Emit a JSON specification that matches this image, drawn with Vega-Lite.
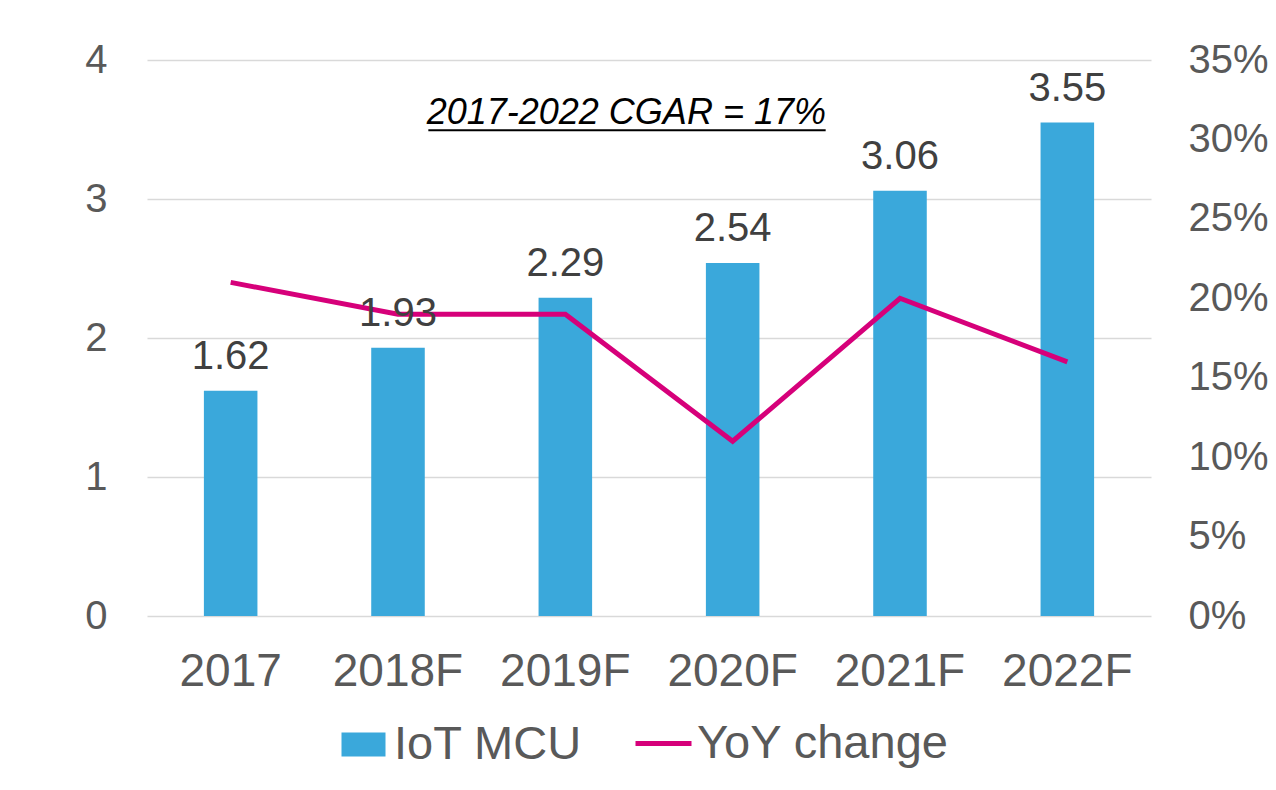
{
  "$schema": "https://vega.github.io/schema/vega-lite/v6.json",
  "width": 1004,
  "height": 556,
  "autosize": "none",
  "padding": {"left": 147, "top": 60, "right": 125, "bottom": 174},
  "background": "white",
  "config": {
    "font": "Liberation Sans",
    "view": {"stroke": null}
  },
  "data": {
    "values": [
      {"year": "2017", "mcu": 1.62, "yoy": 0.21},
      {"year": "2018F", "mcu": 1.93, "yoy": 0.19},
      {"year": "2019F", "mcu": 2.29, "yoy": 0.19},
      {"year": "2020F", "mcu": 2.54, "yoy": 0.11},
      {"year": "2021F", "mcu": 3.06, "yoy": 0.20},
      {"year": "2022F", "mcu": 3.55, "yoy": 0.16}
    ]
  },
  "encoding": {
    "x": {
      "field": "year",
      "type": "nominal",
      "sort": null,
      "scale": {"paddingInner": 0.68, "paddingOuter": 0.34},
      "axis": {
        "title": null,
        "labelAngle": 0,
        "labelFontSize": 46,
        "labelColor": "#595959",
        "labelBaseline": "alphabetic",
        "labelPadding": 69,
        "ticks": false,
        "tickSize": 0,
        "domain": false,
        "grid": false
      }
    }
  },
  "layer": [
    {
      "mark": {"type": "bar", "color": "#3AA8DB"},
      "encoding": {
        "y": {
          "field": "mcu",
          "type": "quantitative",
          "scale": {"domain": [0, 4]},
          "axis": {
            "orient": "left",
            "title": null,
            "values": [0, 1, 2, 3, 4],
            "labelFontSize": 40,
            "labelColor": "#595959",
            "labelPadding": 40,
            "ticks": false,
            "tickSize": 0,
            "domain": false,
            "grid": true,
            "gridColor": "#D9D9D9",
            "gridWidth": 1.5
          }
        },
        "fill": {
          "datum": "IoT MCU",
          "type": "nominal",
          "scale": {"range": ["#3AA8DB"]},
          "legend": {
            "title": null,
            "orient": "none",
            "legendX": 193,
            "legendY": 661,
            "padding": 0,
            "symbolType": "M-1,-0.55H1V0.55H-1Z",
            "symbolSize": 1936,
            "symbolStrokeWidth": 0,
            "labelFontSize": 47,
            "labelColor": "#595959",
            "labelOffset": 7,
            "labelLimit": 400
          }
        }
      }
    },
    {
      "mark": {"type": "line", "color": "#D6007A", "strokeWidth": 5},
      "encoding": {
        "y": {
          "field": "yoy",
          "type": "quantitative",
          "scale": {"domain": [0, 0.35]},
          "axis": {
            "orient": "right",
            "title": null,
            "format": ".0%",
            "values": [0, 0.05, 0.1, 0.15, 0.2, 0.25, 0.3, 0.35],
            "labelFontSize": 40,
            "labelColor": "#595959",
            "labelPadding": 37,
            "ticks": false,
            "tickSize": 0,
            "domain": false,
            "grid": false
          }
        },
        "stroke": {
          "datum": "YoY change",
          "type": "nominal",
          "scale": {"range": ["#D6007A"]},
          "legend": {
            "title": null,
            "orient": "none",
            "legendX": 486,
            "legendY": 653,
            "padding": 0,
            "symbolType": "stroke",
            "symbolSize": 3136,
            "symbolStrokeWidth": 5,
            "labelFontSize": 47,
            "labelColor": "#595959",
            "labelOffset": 3,
            "labelLimit": 400
          }
        }
      }
    },
    {
      "mark": {"type": "text", "baseline": "alphabetic", "dy": -22, "fontSize": 40, "color": "#404040"},
      "encoding": {
        "y": {"field": "mcu", "type": "quantitative", "scale": {"domain": [0, 4]}, "axis": null},
        "text": {"field": "mcu", "type": "quantitative", "format": ".2f"}
      }
    },
    {
      "data": {"values": [{"year": "2019F", "v": 3.54, "label": "2017-2022 CGAR = 17%"}]},
      "mark": {"type": "text", "baseline": "alphabetic", "align": "center", "dx": 61, "fontSize": 36, "fontStyle": "italic", "color": "#000000"},
      "encoding": {
        "y": {"field": "v", "type": "quantitative", "scale": {"domain": [0, 4]}, "axis": null},
        "text": {"field": "label"}
      }
    },
    {
      "data": {"values": [{"year": "2019F", "year2": "2020F", "v": 3.495}]},
      "mark": {"type": "rule", "color": "#000000", "strokeWidth": 2, "xOffset": -137, "x2Offset": 93},
      "encoding": {
        "x2": {"field": "year2"},
        "y": {"field": "v", "type": "quantitative", "scale": {"domain": [0, 4]}, "axis": null}
      }
    }
  ],
  "resolve": {"scale": {"y": "independent"}}
}
